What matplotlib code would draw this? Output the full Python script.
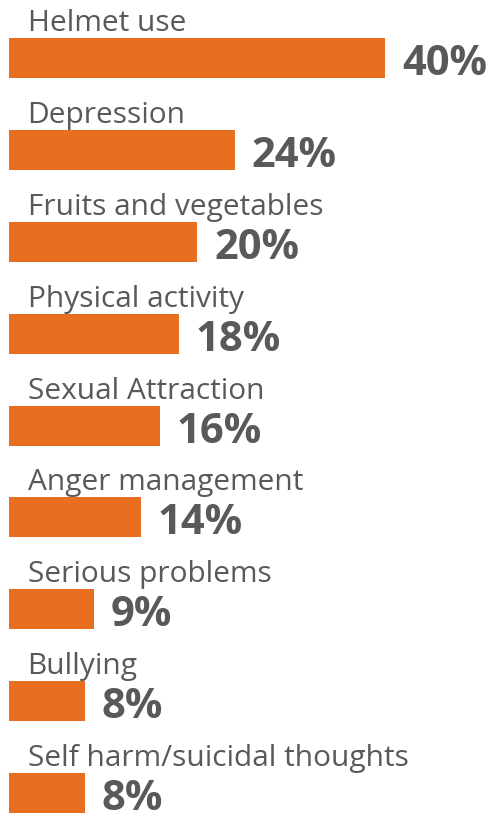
import matplotlib
matplotlib.use('Agg')
import matplotlib.pyplot as plt

categories = ['Helmet use', 'Depression', 'Fruits and vegetables', 'Physical activity',
              'Sexual Attraction', 'Anger management', 'Serious problems', 'Bullying',
              'Self harm/suicidal thoughts']
values = [40, 24, 20, 18, 16, 14, 9, 8, 8]

bar_color = '#E86E22'
text_color = '#595959'

W, H = 488, 815
x0_px, px_per_pct = 9.5, 9.39
y0_px, row_px, bar_px = 58.5, 91.8, 40

fig = plt.figure(figsize=(W / 100, H / 100), dpi=100)
ax = fig.add_axes([0, 0, 1, 1])
ax.set_xlim(-x0_px / px_per_pct, (W - x0_px) / px_per_pct)
ax.set_ylim((H - y0_px) / row_px, -y0_px / row_px)
ax.axis('off')

rows = list(range(len(categories)))
bh = bar_px / row_px
ax.barh(rows, values, height=bh, color=bar_color, edgecolor='none')

for i, (cat, v) in enumerate(zip(categories, values)):
    # category label sits above the bar
    ax.annotate(cat, xy=(0, i - bh / 2), xytext=(18, 7), textcoords='offset pixels',
                ha='left', va='baseline', fontsize=21.5, family='Open Sans',
                color=text_color)
    # value label right of the bar
    ax.annotate(f'{v}%', xy=(v, i + bh / 2), xytext=(17, 3), textcoords='offset pixels',
                ha='left', va='baseline', fontsize=30, family='Open Sans',
                fontweight='bold', color=text_color, annotation_clip=False)

fig.savefig('out.png', dpi=100)
